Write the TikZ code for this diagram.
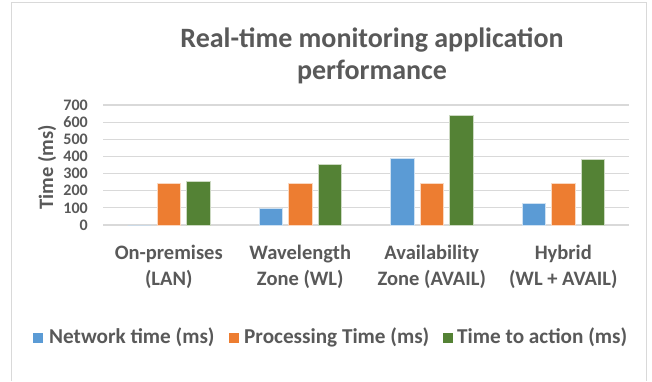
\documentclass[tikz,border=0pt]{standalone}
\usepackage{fontspec}
\setmainfont{Carlito}
\definecolor{txtgray}{HTML}{595959}
\definecolor{gridgray}{HTML}{D9D9D9}
\definecolor{netblue}{HTML}{5B9BD5}
\definecolor{procorange}{HTML}{ED7D31}
\definecolor{actgreen}{HTML}{548235}
\newcommand{\chartbar}[3]{%
  \fill[#3, draw=white!70!#3, line width=0.6pt]
    ({#1-11.75},225) rectangle ({#1+11.75},{225-#2/700*120});}
\begin{document}
\begin{tikzpicture}[x=1pt,y=-1pt,
  titletext/.style={font=\fontsize{28}{32}\selectfont\bfseries, text=txtgray, inner sep=0pt, anchor=base},
  ticktext/.style={font=\fontsize{16}{18}\selectfont\bfseries, text=txtgray, inner sep=0pt, anchor=east},
  cattext/.style={font=\fontsize{20.5}{26}\selectfont\bfseries, text=txtgray, inner sep=0pt, anchor=base},
  legtext/.style={font=\fontsize{21.2}{24}\selectfont\bfseries, text=txtgray, inner sep=0pt, anchor=base west},
  legkey/.style={minimum width=9.5pt, minimum height=9.5pt, inner sep=0pt, anchor=south west},
  gridline/.style={draw=gridgray, line width=1.2pt},
  frameline/.style={draw=gridgray, line width=1pt}]
\useasboundingbox (0,0) rectangle (652,381);
\fill[white] (0,0) rectangle (652,381);
% chart frame
\draw[frameline] (11,381) -- (11,2) -- (646,2) -- (646,381);
% title
\node[titletext] (title1) at (372,47) {Real-time monitoring  application};
\node[titletext] (title2) at (372,79) {performance};
% grid and tick labels
\foreach \v in {0,100,...,700} {
  \draw[gridline] (103,{225-\v/700*120}) -- (629,{225-\v/700*120});
  \node[ticktext] (tick\v) at (88,{225-\v/700*120}) {\v};
}
% axis title
\node[font=\fontsize{20.5}{24}\selectfont\bfseries, text=txtgray, rotate=90, inner sep=0pt] (ytitle) at (47,167) {Time (ms)};
% bars: group centres at 168.75 + k*131.5, bars spaced 29.5
\chartbar{139.25}{0}{netblue}
\chartbar{168.75}{244}{procorange}
\chartbar{198.25}{253}{actgreen}
\chartbar{270.75}{97}{netblue}
\chartbar{300.25}{244}{procorange}
\chartbar{329.75}{352}{actgreen}
\chartbar{402.25}{389}{netblue}
\chartbar{431.75}{244}{procorange}
\chartbar{461.25}{640}{actgreen}
\chartbar{533.75}{127}{netblue}
\chartbar{563.25}{244}{procorange}
\chartbar{592.75}{383}{actgreen}
% category labels
\node[cattext] (cat1a) at (168.75,259) {On-premises};
\node[cattext] (cat1b) at (168.75,285) {(LAN)};
\node[cattext] (cat2a) at (300.25,259) {Wavelength};
\node[cattext] (cat2b) at (300.25,285) {Zone (WL)};
\node[cattext] (cat3a) at (431.75,259) {Availability};
\node[cattext] (cat3b) at (431.75,285) {Zone (AVAIL)};
\node[cattext] (cat4a) at (563.25,259) {Hybrid};
\node[cattext] (cat4b) at (563.25,285) {(WL + AVAIL)};
% legend
\node[legkey, fill=netblue] (key1) at (33,343) {};
\node[legtext] (leg1) at (49,343) {Network time (ms)};
\node[legkey, fill=procorange] (key2) at (229,343) {};
\node[legtext] (leg2) at (244,343) {Processing Time (ms)};
\node[legkey, fill=actgreen] (key3) at (443,343) {};
\node[legtext] (leg3) at (457,343) {Time to action (ms)};
\end{tikzpicture}
\end{document}
